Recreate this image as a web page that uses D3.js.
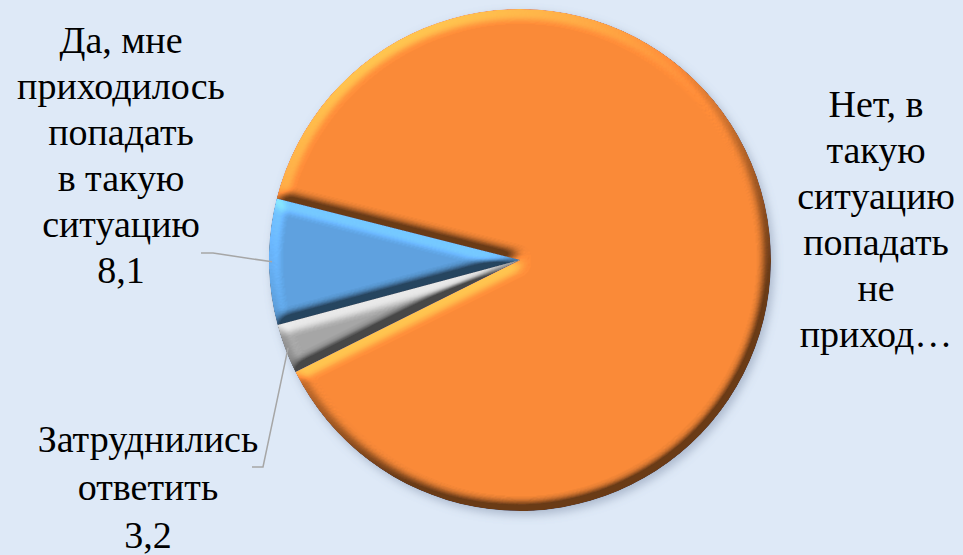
<!DOCTYPE html>
<html><head><meta charset="utf-8">
<script src="https://cdn.jsdelivr.net/npm/d3@7/dist/d3.min.js"></script>
</head>
<body style="margin:0;background:#DEE9F7">
<svg id="chart" width="963" height="555" style="display:block"></svg>
<script>
// ---- data ----
const categories = ["Да, мне приходилось попадать в такую ситуацию",
                    "Нет, в такую ситуацию попадать не приходилось",
                    "Затруднились ответить"];
const values = [8.1, 88.7, 3.2];
const colors = ["#5EA1DF", "#FA8A38", "#A6A6A6"];
const labelLines = [
  ["Да, мне", "приходилось", "попадать", "в такую", "ситуацию"],
  ["Нет, в", "такую", "ситуацию", "попадать", "не", "приход…"],
  ["Затруднились", "ответить"]
];
const showValue = [true, false, true];

// ---- labels first (plain text, serif) ----
const svg = d3.select("#chart");
const fmt = v => String(v).replace(".", ",");
const labelPos = [
  {x:121, y:53, dy:46},
  {x:876, y:117, dy:46},
  {x:148, y:452, dy:48}
];
const labelLayer = svg.append("g");

// ---- pie ----
const cx = 520, cy = 260, R = 251;
const defs = svg.append("defs");
const ds = defs.append("filter").attr("id","shadow")
  .attr("x","-10%").attr("y","-10%").attr("width","125%").attr("height","125%");
ds.append("feDropShadow").attr("dx",3).attr("dy",4).attr("stdDeviation",5)
  .attr("flood-color","#6d7f99").attr("flood-opacity",0.45);

const bev = defs.append("filter").attr("id","bevel")
  .attr("x","-5%").attr("y","-5%").attr("width","110%").attr("height","110%")
  .attr("color-interpolation-filters","sRGB");
bev.append("feGaussianBlur").attr("in","SourceAlpha").attr("stdDeviation",6).attr("result","b");
const dl = bev.append("feDiffuseLighting").attr("in","b").attr("surfaceScale",10)
  .attr("diffuseConstant",1).attr("lighting-color","#fff").attr("result","d");
dl.append("feDistantLight").attr("azimuth",240).attr("elevation",35);
const a = 1.0, flat = Math.sin(35*Math.PI/180);
bev.append("feComposite").attr("in","SourceGraphic").attr("in2","d")
  .attr("operator","arithmetic").attr("k1",a).attr("k2",1-a*flat).attr("k3",0).attr("k4",0)
  .attr("result","c");
bev.append("feComposite").attr("in","c").attr("in2","SourceAlpha").attr("operator","in");

const startDeg = 255;
const pie = d3.pie().sort(null).value(d => d)
  .startAngle(startDeg*Math.PI/180).endAngle(startDeg*Math.PI/180 + 2*Math.PI);
const arcs = pie(values);
const arc = d3.arc().innerRadius(0).outerRadius(R);
const edgeArc = d3.arc().innerRadius(R-3).outerRadius(R-3);

const g = svg.append("g").attr("transform",`translate(${cx},${cy})`).attr("filter","url(#shadow)");
g.selectAll("path").data(arcs).enter().append("path")
  .attr("d", arc).attr("fill",(d,i)=>colors[i]).attr("filter","url(#bevel)");

arcs.forEach((d,i) => {
  const lines = labelLines[i].slice();
  if (showValue[i]) lines.push(fmt(values[i]));
  const p = labelPos[i];
  lines.forEach((ln,k) => {
    labelLayer.append("text").attr("x",p.x).attr("y",p.y + k*p.dy)
      .attr("text-anchor","middle")
      .attr("font-size",38)
      .attr("font-family","Liberation Serif")
      .style("font-family", '"Liberation Serif"')
      .text(ln);
  });
});

// leader lines
const leaders = [
  {i:0, elbow:[213,253], end:[201,253]},
  {i:2, elbow:[263,467], end:[252,467]}
];
leaders.forEach(L => {
  const c = edgeArc.centroid(arcs[L.i]);
  const pts = [[cx+c[0], cy+c[1]], L.elbow, L.end];
  svg.append("path").attr("d", d3.line()(pts))
    .attr("fill","none").attr("stroke","#A6A6A6").attr("stroke-width",1.5);
});
</script>
</body></html>
